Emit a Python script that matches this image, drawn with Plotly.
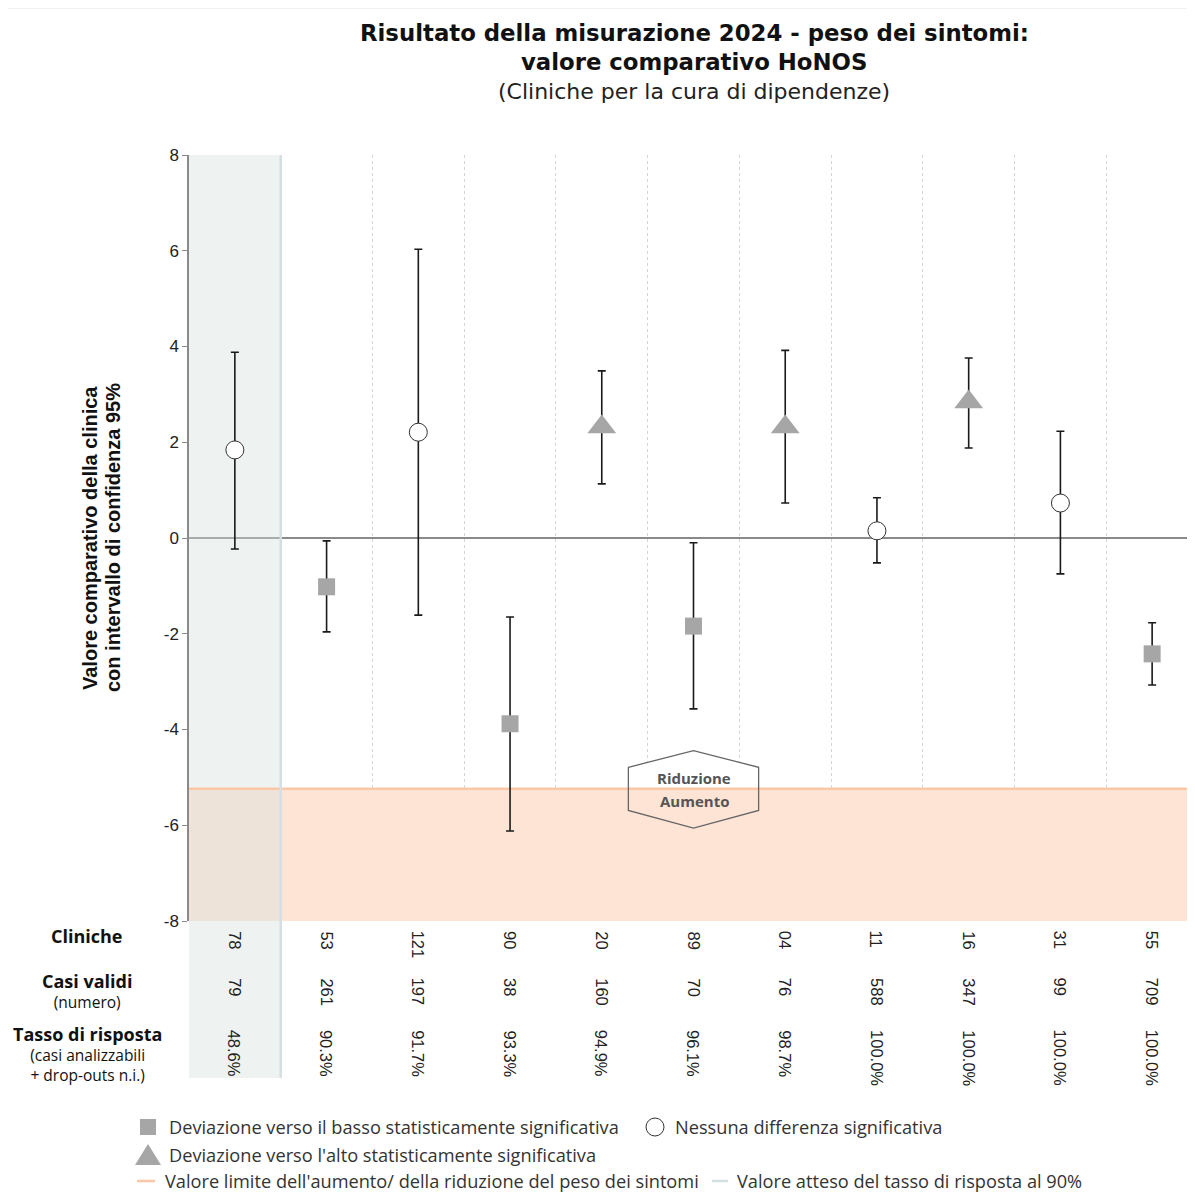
import plotly.graph_objects as go

# ---------------- data ----------------
clinics = ["78", "53", "121", "90", "20", "89", "04", "11", "16", "31", "55"]
valid_cases = ["79", "261", "197", "38", "160", "70", "76", "588", "347", "99", "709"]
response_rate = ["48.6%", "90.3%", "91.7%", "93.3%", "94.9%", "96.1%", "98.7%",
                 "100.0%", "100.0%", "100.0%", "100.0%"]
value = [1.84, -1.02, 2.21, -3.88, 2.32, -1.84, 2.32, 0.15, 2.84, 0.73, -2.42]
ci_upper = [3.88, -0.06, 6.03, -1.65, 3.49, -0.10, 3.92, 0.84, 3.76, 2.23, -1.77]
ci_lower = [-0.23, -1.96, -1.61, -6.12, 1.13, -3.57, 0.73, -0.52, 1.88, -0.75, -3.07]
# significance: "low" = significant downward, "none" = no difference, "high" = significant upward
significance = ["none", "low", "none", "low", "high", "low", "high", "none", "high", "none", "low"]
threshold = -5.24
highlight_clinic = "78"
y_ticks = [-8, -6, -4, -2, 0, 2, 4, 6, 8]
y_tick_labels = ["-8", "-6", "-4", "-2", "0", "2", "4", "6", "8"]

# ---------------- styles ----------------
GRAY_MARK = "#a6a6a6"
PEACH_FILL = "#fde4d5"
ORANGE_LINE = "#fcc7a6"
COL_LINE = "#d3dfe2"
TXT = "#222222"
FONT_TITLE = "DejaVu Sans"
FONT_T = "Open Sans"
FONT_N = "Liberation Sans"
FONT_L = "Open Sans"

fig = go.Figure()

styles = {
    "low": dict(symbol="square", size=17, color=GRAY_MARK, line=dict(width=0)),
    "none": dict(symbol="circle", size=18, color="white", line=dict(width=1, color="#333333")),
    "high": dict(symbol="triangle-up", size=25, color=GRAY_MARK, line=dict(width=0)),
}
for key in ["low", "none", "high"]:
    idx = [i for i, s in enumerate(significance) if s == key]
    xs = [clinics[i] for i in idx]
    ys = [value[i] for i in idx]
    up = [ci_upper[i] - value[i] for i in idx]
    dn = [value[i] - ci_lower[i] for i in idx]
    fig.add_trace(go.Scatter(
        x=xs, y=ys, mode="markers",
        marker=styles[key],
        error_y=dict(type="data", symmetric=False, array=up, arrayminus=dn,
                     color="#1a1a1a", thickness=1.6, width=4),
        showlegend=False, hoverinfo="skip",
    ))

hi = clinics.index(highlight_clinic)
n = len(clinics)

# page-pixel -> paper helpers (plot area spans page x 189..1198, y 155..921)
PW, PH = 1009, 766
def px_x(p):
    return (p - 189) / PW
def px_y(p):
    return (921 - p) / PH

table_bottom = px_y(1078)

shapes = []
# hexagon white fill (hides gridlines)
cx = clinics.index("89")
hw = 0.71
hex_path = (f"M{cx-hw},{threshold+0.45} L{cx},{threshold+0.80} L{cx+hw},{threshold+0.45} "
            f"L{cx+hw},{threshold-0.45} L{cx},{threshold-0.82} L{cx-hw},{threshold-0.45} Z")
shapes.append(dict(type="path", path=hex_path, xref="x", yref="y", layer="between",
                   fillcolor="white", line=dict(width=0)))
# peach band
shapes.append(dict(type="rect", xref="x", yref="y", x0=-0.5, x1=n - 0.5, y0=-8, y1=threshold,
                   fillcolor=PEACH_FILL, line=dict(width=0), layer="between"))
# highlighted column (inside plot)
shapes.append(dict(type="rect", xref="x", yref="y", x0=hi - 0.5, x1=hi + 0.5, y0=-8, y1=8,
                   fillcolor="rgba(212,225,222,0.4)", line=dict(width=0), layer="between"))
# highlighted column (table area below plot)
shapes.append(dict(type="rect", xref="paper", yref="paper", x0=0, x1=1 / n, y0=table_bottom, y1=0,
                   fillcolor="#eef3f2", line=dict(width=0), layer="below"))
# column edge line (expected response rate 90%)
shapes.append(dict(type="line", xref="paper", yref="paper", x0=1 / n, x1=1 / n, y0=table_bottom, y1=1,
                   line=dict(color=COL_LINE, width=2.5), layer="above"))
# threshold line
shapes.append(dict(type="line", xref="x", yref="y", x0=-0.5, x1=n - 0.5, y0=threshold, y1=threshold,
                   line=dict(color=ORANGE_LINE, width=2.5), layer="between"))
# hexagon outline
shapes.append(dict(type="path", path=hex_path, xref="x", yref="y", layer="above",
                   fillcolor="rgba(0,0,0,0)", line=dict(width=1.3, color="#666666")))
# outer frame (left + top)
shapes.append(dict(type="line", xref="paper", yref="paper", x0=px_x(7.5), x1=px_x(7.5), y0=px_y(1205), y1=px_y(8),
                   line=dict(color="#e3e3e3", width=1)))
shapes.append(dict(type="line", xref="paper", yref="paper", x0=px_x(7.5), x1=1.0, y0=px_y(8), y1=px_y(8),
                   line=dict(color="#e3e3e3", width=1)))

# legend symbols
shapes.append(dict(type="rect", xref="paper", yref="paper", xsizemode="pixel", ysizemode="pixel",
                   xanchor=px_x(148), yanchor=px_y(1127), x0=-8, x1=8, y0=-8, y1=8,
                   fillcolor=GRAY_MARK, line=dict(width=0)))
shapes.append(dict(type="circle", xref="paper", yref="paper", xsizemode="pixel", ysizemode="pixel",
                   xanchor=px_x(655), yanchor=px_y(1127), x0=-9, x1=9, y0=-9, y1=9,
                   fillcolor="white", line=dict(width=1, color="#333333")))
shapes.append(dict(type="path", xref="paper", yref="paper", xsizemode="pixel", ysizemode="pixel",
                   xanchor=px_x(148), yanchor=px_y(1155),
                   path="M-13,-10 L13,-10 L0,11 Z",
                   fillcolor=GRAY_MARK, line=dict(width=0)))
shapes.append(dict(type="line", xref="paper", yref="paper", x0=px_x(137), x1=px_x(155),
                   y0=px_y(1181), y1=px_y(1181), line=dict(color=ORANGE_LINE, width=2.5)))
shapes.append(dict(type="line", xref="paper", yref="paper", x0=px_x(712), x1=px_x(728),
                   y0=px_y(1181), y1=px_y(1181), line=dict(color=COL_LINE, width=2.5)))

ann = []
# titles
ann.append(dict(text="<b>Risultato della misurazione 2024 - peso dei sintomi:</b>", x=px_x(694), y=px_y(33),
                font=dict(family=FONT_TITLE, size=22.8, color="#111111")))
ann.append(dict(text="<b>valore comparativo HoNOS</b>", x=px_x(694), y=px_y(62),
                font=dict(family=FONT_TITLE, size=22.8, color="#111111")))
ann.append(dict(text="(Cliniche per la cura di dipendenze)", x=px_x(694), y=px_y(91),
                font=dict(family=FONT_TITLE, size=22, color="#222222")))
# y axis title
ann.append(dict(text="<b>Valore comparativo della clinica</b>", x=px_x(90), y=0.5, textangle=-90,
                font=dict(family=FONT_N, size=20, color="#111111")))
ann.append(dict(text="<b>con intervallo di confidenza 95%</b>", x=px_x(113), y=0.5, textangle=-90,
                font=dict(family=FONT_N, size=20, color="#111111")))
# hexagon labels
ann.append(dict(text="<b>Riduzione</b>", x=px_x(694), y=px_y(778),
                font=dict(family=FONT_T, size=15, color="#555555")))
ann.append(dict(text="<b>Aumento</b>", x=px_x(694), y=px_y(801),
                font=dict(family=FONT_T, size=15, color="#555555")))
# row labels (multi-line blocks)
B = "<span style='font-size:18px'><b>{}</b></span>"
row_labels = [
    (B.format("Cliniche"), 936),
    (B.format("Casi validi") + "<br>(numero)", 991),
    (B.format("Tasso di risposta") + "<br>(casi analizzabili<br>+ drop-outs n.i.)", 1054),
]
for txt, py in row_labels:
    ann.append(dict(text=txt, x=px_x(87), y=px_y(py),
                    font=dict(family=FONT_T, size=15.5, color="#111111")))
# table values (rotated), positioned by category index
for row, top in [(clinics, 929), (valid_cases, 976), (response_rate, 1028)]:
    for i, v in enumerate(row):
        ann.append(dict(text=v, x=i, xref="x", y=px_y(top), yanchor="top", textangle=90,
                        font=dict(family=FONT_N, size=16.5, color=TXT)))
# legend texts
leg = [
    ("Deviazione verso il basso statisticamente significativa", 167, 1127),
    ("Nessuna differenza significativa", 673, 1127),
    ("Deviazione verso l'alto statisticamente significativa", 167, 1155),
    ("Valore limite dell'aumento/ della riduzione del peso dei sintomi", 163, 1181),
    ("Valore atteso del tasso di risposta al 90%", 735, 1181),
]
for txt, px, py in leg:
    ann.append(dict(text=txt, x=px_x(px), y=px_y(py), xanchor="left",
                    font=dict(family=FONT_L, size=18.2, color="#333333")))

for a in ann:
    a.setdefault("xref", "paper")
    a.setdefault("yref", "paper")
    a.setdefault("showarrow", False)
    a.setdefault("xanchor", "center")
    a.setdefault("yanchor", "middle")

fig.update_layout(
    width=1195, height=1200,
    margin=dict(l=181, r=5, t=147, b=287),
    paper_bgcolor="white", plot_bgcolor="white",
    shapes=shapes, annotations=ann,
    showlegend=False,
    xaxis=dict(type="category", categoryorder="array", categoryarray=clinics,
               range=[-0.5, n - 0.5], showticklabels=False, ticks="",
               tickson="boundaries", showgrid=True, gridcolor="#d4d4d4", griddash="dot",
               gridwidth=1, zeroline=False, showline=False, fixedrange=True),
    yaxis=dict(range=[-8, 8], tickmode="array", tickvals=y_ticks, ticktext=y_tick_labels,
               showgrid=False,
               zeroline=True, zerolinecolor="#8a8a8a", zerolinewidth=1.5,
               showline=True, linecolor="#8a8a8a", linewidth=1.5,
               ticks="outside", ticklen=5, tickcolor="#8a8a8a",
               tickfont=dict(family=FONT_N, size=17, color=TXT)),
)

fig.write_html("out.html")
